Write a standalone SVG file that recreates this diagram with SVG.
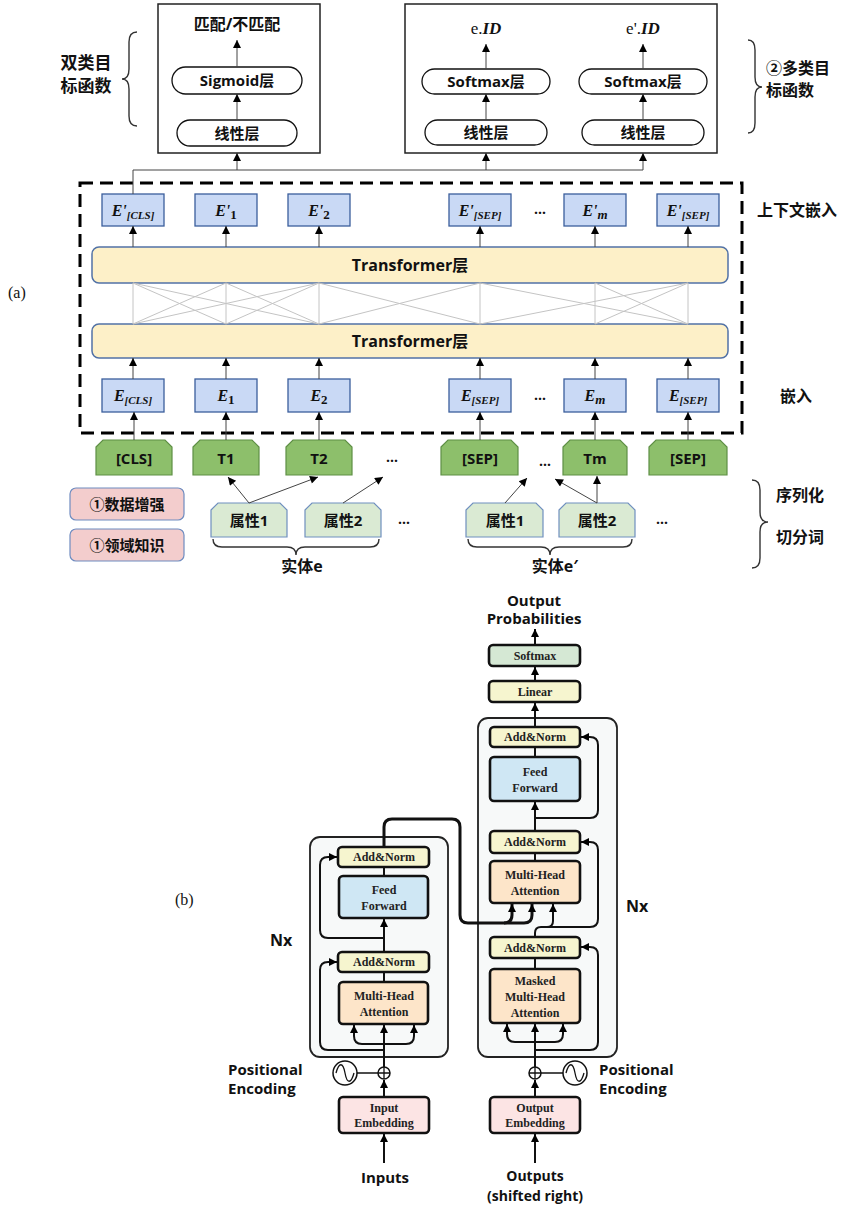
<svg xmlns="http://www.w3.org/2000/svg" width="843" height="1205" viewBox="0 0 843 1205">
<defs>
<style>
.t{font-family:"Open Sans","Noto Sans CJK SC",sans-serif;font-weight:bold;fill:#111;text-anchor:middle}
.tl{font-family:"Open Sans","Noto Sans CJK SC",sans-serif;font-weight:bold;fill:#111}
.sr{font-family:"Liberation Serif",serif;fill:#111}
.em{font-family:"Liberation Serif",serif;font-style:italic;font-weight:bold;fill:#111;text-anchor:middle;font-size:16px}
.bx{font-family:"Liberation Serif",serif;font-weight:bold;font-size:12px;fill:#222;text-anchor:middle}
.pill{fill:#fff;stroke:#111;stroke-width:1.3}
.obox{fill:#fff;stroke:#222;stroke-width:1.5}
.ebox{fill:#C9D9F5;stroke:#3B5E9C;stroke-width:1.3}
.tf{fill:#FDF0C8;stroke:#5272A6;stroke-width:1.5}
.tok{fill:#8DBF6B;stroke:#5E8F45;stroke-width:1.2}
.attr{fill:#DAEAD3;stroke:#6F8FBF;stroke-width:1.2}
.pink{fill:#F3CDCD;stroke:#6F8CC0;stroke-width:1.2}
.ln{stroke:#444;stroke-width:1;fill:none}
.ar{stroke:#444;stroke-width:1;fill:none;marker-end:url(#a1)}
.gx{stroke:#C4C4C4;stroke-width:1;fill:none}
.br{stroke:#333;stroke-width:1.4;fill:none}
.blk{stroke:#111;stroke-width:2.6;rx:4}
.stack{fill:#F7F9F9;stroke:#222;stroke-width:1.8}
.w{stroke:#111;stroke-width:2;fill:none}
.wa{stroke:#111;stroke-width:2;fill:none;marker-end:url(#a2)}
.wt{stroke:#111;stroke-width:3;fill:none}
.wta{stroke:#111;stroke-width:3;fill:none;marker-end:url(#a2)}
</style>
<marker id="a1" viewBox="0 0 10 10" refX="10" refY="5" markerUnits="userSpaceOnUse" markerWidth="10" markerHeight="8" orient="auto"><path d="M0,0L10,5L0,10z" fill="#000"/></marker>
<marker id="a2" viewBox="0 0 10 10" refX="10" refY="5" markerUnits="userSpaceOnUse" markerWidth="8" markerHeight="8" orient="auto"><path d="M0,0L10,5L0,10z" fill="#000"/></marker>
</defs>
<rect width="843" height="1205" fill="#fff"/>

<!-- ============ (a) ============ -->
<text class="sr" x="8" y="298" font-size="16">(a)</text>

<g id="binary-head">
<rect class="obox" x="158" y="4" width="162" height="149"/>
<text class="t" x="237" y="30" font-size="16">匹配/不匹配</text>
<rect class="pill" x="172" y="67" width="130" height="27" rx="13.5"/>
<text class="t" x="237" y="86" font-size="15">Sigmoid层</text>
<rect class="pill" x="177" y="120" width="120" height="26" rx="13"/>
<text class="t" x="237" y="139" font-size="15">线性层</text>
</g>
<g id="binary-label">
<path class="br" d="M137,32 Q129,32 129,42 V69 Q129,79 122,79 Q129,79 129,89 V116 Q129,126 137,126"/>
<text class="t" x="86" y="69" font-size="17">双类目</text>
<text class="t" x="86" y="92" font-size="17">标函数</text>
</g>

<g id="multi-head">
<rect class="obox" x="405" y="4" width="312" height="149"/>
<text class="sr" x="486" y="34" font-size="17" text-anchor="middle">e.<tspan font-weight="bold" font-style="italic">ID</tspan></text>
<text class="sr" x="643" y="34" font-size="17" text-anchor="middle">e'.<tspan font-weight="bold" font-style="italic">ID</tspan></text>
<rect class="pill" x="422" y="69" width="128" height="25" rx="12.5"/>
<text class="t" x="486" y="87" font-size="15">Softmax层</text>
<rect class="pill" x="579" y="69" width="128" height="25" rx="12.5"/>
<text class="t" x="643" y="87" font-size="15">Softmax层</text>
<rect class="pill" x="425" y="120" width="122" height="25" rx="12.5"/>
<text class="t" x="486" y="138" font-size="15">线性层</text>
<rect class="pill" x="582" y="120" width="122" height="25" rx="12.5"/>
<text class="t" x="643" y="138" font-size="15">线性层</text>
</g>
<g id="multi-label">
<path class="br" d="M748,40 Q755,40 755,50 V77 Q755,87 762,87 Q755,87 755,97 V123 Q755,133 748,133"/>
<text class="tl" x="766" y="74" font-size="16">②多类目</text>
<text class="tl" x="766" y="96" font-size="16">标函数</text>
</g>

<g id="bert-frame">
<rect x="80" y="183" width="662" height="250" fill="none" stroke="#000" stroke-width="3" stroke-dasharray="13 7"/>
</g>

<g id="ctx-embeddings">
<rect class="ebox" x="102" y="194" width="62" height="32"/>
<text class="em" x="133" y="216">E'<tspan font-size="11" dy="3">[CLS]</tspan></text>
<rect class="ebox" x="195" y="194" width="62" height="32"/>
<text class="em" x="226" y="216">E'<tspan font-size="13" dy="3" font-style="normal">1</tspan></text>
<rect class="ebox" x="288" y="194" width="62" height="32"/>
<text class="em" x="319" y="216">E'<tspan font-size="13" dy="3" font-style="normal">2</tspan></text>
<rect class="ebox" x="449" y="194" width="62" height="32"/>
<text class="em" x="480" y="216">E'<tspan font-size="11" dy="3">[SEP]</tspan></text>
<text class="t" x="540" y="214" font-size="14">…</text>
<rect class="ebox" x="564" y="194" width="62" height="32"/>
<text class="em" x="595" y="216">E'<tspan font-size="13" dy="3">m</tspan></text>
<rect class="ebox" x="657" y="194" width="62" height="32"/>
<text class="em" x="688" y="216">E'<tspan font-size="11" dy="3">[SEP]</tspan></text>
</g>

<g id="transformer-top">
<rect class="tf" x="92" y="247" width="636" height="36" rx="7"/>
<text class="t" x="410" y="271" font-size="16">Transformer层</text>
</g>
<g id="transformer-bottom">
<rect class="tf" x="92" y="324" width="636" height="34" rx="7"/>
<text class="t" x="410" y="347" font-size="16">Transformer层</text>
</g>

<g id="embeddings">
<rect class="ebox" x="102" y="379" width="62" height="33"/>
<text class="em" x="133" y="401">E<tspan font-size="11" dy="3">[CLS]</tspan></text>
<rect class="ebox" x="195" y="379" width="62" height="33"/>
<text class="em" x="226" y="401">E<tspan font-size="13" dy="3" font-style="normal">1</tspan></text>
<rect class="ebox" x="288" y="379" width="62" height="33"/>
<text class="em" x="319" y="401">E<tspan font-size="13" dy="3" font-style="normal">2</tspan></text>
<rect class="ebox" x="449" y="379" width="62" height="33"/>
<text class="em" x="480" y="401">E<tspan font-size="11" dy="3">[SEP]</tspan></text>
<text class="t" x="540" y="400" font-size="14">…</text>
<rect class="ebox" x="564" y="379" width="62" height="33"/>
<text class="em" x="595" y="401">E<tspan font-size="13" dy="3">m</tspan></text>
<rect class="ebox" x="657" y="379" width="62" height="33"/>
<text class="em" x="688" y="401">E<tspan font-size="11" dy="3">[SEP]</tspan></text>
</g>

<g id="tokens">
<path class="tok" d="M96,447L103,440H165L172,447V475H96Z"/>
<text class="t" x="134" y="464" font-size="15">[CLS]</text>
<path class="tok" d="M193,447L200,440H252L259,447V475H193Z"/>
<text class="t" x="226" y="464" font-size="15">T1</text>
<path class="tok" d="M286,447L293,440H345L352,447V475H286Z"/>
<text class="t" x="319" y="464" font-size="15">T2</text>
<text class="t" x="392" y="462" font-size="14">…</text>
<path class="tok" d="M441,447L448,440H511L518,447V475H441Z"/>
<text class="t" x="480" y="464" font-size="15">[SEP]</text>
<text class="t" x="545" y="466" font-size="14">…</text>
<path class="tok" d="M563,447L570,440H620L627,447V475H563Z"/>
<text class="t" x="595" y="464" font-size="15">Tm</text>
<path class="tok" d="M649,447L656,440H720L727,447V475H649Z"/>
<text class="t" x="688" y="464" font-size="15">[SEP]</text>
</g>

<g id="attributes">
<path class="attr" d="M211,510L218,503H280L287,510V537H211Z"/>
<text class="t" x="249" y="526" font-size="15">属性1</text>
<path class="attr" d="M305,510L312,503H374L381,510V537H305Z"/>
<text class="t" x="343" y="526" font-size="15">属性2</text>
<text class="t" x="404" y="524" font-size="14">…</text>
<path class="attr" d="M466,510L473,503H536L543,510V537H466Z"/>
<text class="t" x="505" y="526" font-size="15">属性1</text>
<path class="attr" d="M559,510L566,503H628L635,510V537H559Z"/>
<text class="t" x="597" y="526" font-size="15">属性2</text>
<text class="t" x="662" y="524" font-size="14">…</text>
</g>

<g id="entity-e">
<path class="br" d="M213,539 Q213,547 222,547 H287 Q296,547 296,555 Q296,547 305,547 H370 Q379,547 379,539"/>
<text class="t" x="302" y="572" font-size="16">实体e</text>
</g>
<g id="entity-e2">
<path class="br" d="M468,539 Q468,547 477,547 H541 Q550,547 550,555 Q550,547 559,547 H623 Q632,547 632,539"/>
<text class="t" x="555" y="572" font-size="16">实体e′</text>
</g>

<g id="aug">
<rect class="pink" x="70" y="488" width="114" height="32" rx="6"/>
<text class="t" x="127" y="510" font-size="15">①数据增强</text>
</g>
<g id="domain">
<rect class="pink" x="70" y="529" width="114" height="32" rx="6"/>
<text class="t" x="127" y="551" font-size="15">①领域知识</text>
</g>

<g id="right-labels">
<text class="tl" x="757" y="216" font-size="16">上下文嵌入</text>
<text class="tl" x="780" y="402" font-size="16">嵌入</text>
<path class="br" d="M752,480 Q760,480 760,490 V512 Q760,522 768,522 Q760,522 760,532 V558 Q760,568 752,568"/>
<text class="tl" x="776" y="501" font-size="16">序列化</text>
<text class="tl" x="776" y="543" font-size="16">切分词</text>
</g>

<g id="connectors-a">
<path class="ln" d="M133,194V170H643"/>
<path class="ar" d="M237,170V153"/>
<path class="ar" d="M486,170V153"/>
<path class="ar" d="M643,170V153"/>
<path class="ar" d="M237,67V40"/>
<path class="ar" d="M237,120V94"/>
<path class="ar" d="M486,69V44"/>
<path class="ar" d="M643,69V44"/>
<path class="ar" d="M486,120V94"/>
<path class="ar" d="M643,120V94"/>
<path class="ar" d="M133,247V226"/>
<path class="ar" d="M226,247V226"/>
<path class="ar" d="M319,247V226"/>
<path class="ar" d="M480,247V226"/>
<path class="ar" d="M595,247V226"/>
<path class="ar" d="M688,247V226"/>
<path class="ar" d="M133,379V358"/>
<path class="ar" d="M226,379V358"/>
<path class="ar" d="M319,379V358"/>
<path class="ar" d="M480,379V358"/>
<path class="ar" d="M595,379V358"/>
<path class="ar" d="M688,379V358"/>
<path class="ar" d="M134,440V412"/>
<path class="ar" d="M226,440V412"/>
<path class="ar" d="M319,440V412"/>
<path class="ar" d="M480,440V412"/>
<path class="ar" d="M595,440V412"/>
<path class="ar" d="M688,440V412"/>
<path class="gx" d="M133,283V324M226,283V324M319,283V324M480,283V324M595,283V324M688,283V324
M133,283L226,324M226,283L133,324M133,283L319,324M319,283L133,324M226,283L319,324M319,283L226,324
M319,283L480,324M480,283L319,324M480,283L688,324M688,283L480,324M595,283L688,324M688,283L595,324"/>
<path class="ar" d="M249,503L228,477"/>
<path class="ar" d="M249,503L318,477"/>
<path class="ar" d="M343,503L383,477"/>
<path class="ar" d="M505,503L527,478"/>
<path class="ar" d="M597,503L555,479"/>
<path class="ar" d="M597,503V476"/>
</g>

<!-- ============ (b) ============ -->
<text class="sr" x="175" y="905" font-size="16">(b)</text>

<g id="encoder">
<rect class="stack" x="310" y="837" width="138" height="220" rx="10"/>
<rect class="blk" x="338" y="847" width="91" height="20" fill="#F6F5CF"/>
<text class="bx" x="384" y="861">Add&amp;Norm</text>
<rect class="blk" x="339" y="876" width="89" height="42" rx="6" fill="#CFE7F4"/>
<text class="bx" x="384" y="894">Feed</text>
<text class="bx" x="384" y="910">Forward</text>
<rect class="blk" x="338" y="952" width="91" height="20" fill="#F6F5CF"/>
<text class="bx" x="384" y="966">Add&amp;Norm</text>
<rect class="blk" x="339" y="982" width="89" height="42" rx="6" fill="#FDE5C9"/>
<text class="bx" x="384" y="1000">Multi-Head</text>
<text class="bx" x="384" y="1016">Attention</text>
<text class="tl" x="270" y="946" font-size="16">Nx</text>
</g>

<g id="input-embedding">
<rect class="blk" x="339" y="1097" width="90" height="36" rx="5" fill="#FCE4E4"/>
<text class="bx" x="384" y="1112">Input</text>
<text class="bx" x="384" y="1127">Embedding</text>
</g>
<g id="enc-pos">
<circle cx="384" cy="1073" r="6" fill="#fff" stroke="#111" stroke-width="1.5"/>
<path d="M378,1073H390M384,1067V1079" stroke="#111" stroke-width="1.3"/>
<circle cx="345" cy="1073" r="12" fill="#fff" stroke="#111" stroke-width="1.5"/>
<path d="M336,1073 C339,1062 343,1062 345,1073 S351,1084 354,1073" fill="none" stroke="#111" stroke-width="1.3"/>
<path d="M357,1073H378" stroke="#111" stroke-width="1.5"/>
<text class="tl" x="228" y="1075" font-size="15">Positional</text>
<text class="tl" x="228" y="1094" font-size="15">Encoding</text>
</g>
<text class="t" x="385" y="1183" font-size="15">Inputs</text>

<g id="decoder">
<rect class="stack" x="478" y="718" width="139" height="339" rx="10"/>
<rect class="blk" x="490" y="727" width="90" height="20" fill="#F6F5CF"/>
<text class="bx" x="535" y="741">Add&amp;Norm</text>
<rect class="blk" x="490" y="757" width="90" height="44" rx="6" fill="#CFE7F4"/>
<text class="bx" x="535" y="776">Feed</text>
<text class="bx" x="535" y="792">Forward</text>
<rect class="blk" x="490" y="831" width="90" height="22" fill="#F6F5CF"/>
<text class="bx" x="535" y="846">Add&amp;Norm</text>
<rect class="blk" x="490" y="861" width="90" height="42" rx="6" fill="#FDE5C9"/>
<text class="bx" x="535" y="879">Multi-Head</text>
<text class="bx" x="535" y="895">Attention</text>
<rect class="blk" x="490" y="937" width="90" height="21" fill="#F6F5CF"/>
<text class="bx" x="535" y="952">Add&amp;Norm</text>
<rect class="blk" x="490" y="969" width="90" height="54" rx="6" fill="#FDE5C9"/>
<text class="bx" x="535" y="985">Masked</text>
<text class="bx" x="535" y="1001">Multi-Head</text>
<text class="bx" x="535" y="1017">Attention</text>
<text class="tl" x="626" y="912" font-size="16">Nx</text>
</g>

<g id="linear">
<rect class="blk" x="489" y="681" width="91" height="21" fill="#F6F5CF"/>
<text class="bx" x="535" y="696">Linear</text>
</g>
<g id="softmax">
<rect class="blk" x="489" y="645" width="91" height="21" fill="#D5E8D4"/>
<text class="bx" x="535" y="660">Softmax</text>
</g>
<text class="t" x="534" y="606" font-size="15">Output</text>
<text class="t" x="534" y="624" font-size="15">Probabilities</text>

<g id="output-embedding">
<rect class="blk" x="490" y="1097" width="90" height="36" rx="5" fill="#FCE4E4"/>
<text class="bx" x="535" y="1112">Output</text>
<text class="bx" x="535" y="1127">Embedding</text>
</g>
<g id="dec-pos">
<circle cx="535" cy="1073" r="6" fill="#fff" stroke="#111" stroke-width="1.5"/>
<path d="M529,1073H541M535,1067V1079" stroke="#111" stroke-width="1.3"/>
<circle cx="575" cy="1073" r="12" fill="#fff" stroke="#111" stroke-width="1.5"/>
<path d="M566,1073 C569,1062 573,1062 575,1073 S581,1084 584,1073" fill="none" stroke="#111" stroke-width="1.3"/>
<path d="M541,1073H563" stroke="#111" stroke-width="1.5"/>
<text class="tl" x="599" y="1075" font-size="15">Positional</text>
<text class="tl" x="599" y="1094" font-size="15">Encoding</text>
</g>
<text class="t" x="535" y="1181" font-size="14">Outputs</text>
<text class="t" x="535" y="1201" font-size="14">(shifted right)</text>

<g id="connectors-b">
<path class="wa" d="M384,1163V1134"/>
<path class="wa" d="M384,1097V1080"/>
<path class="wa" d="M384,1067V1025"/>
<path class="wa" d="M384,1044H362Q354,1044 354,1036V1025"/>
<path class="wa" d="M384,1044H406Q414,1044 414,1036V1025"/>
<path class="wa" d="M384,1050H328Q320,1050 320,1042V970Q320,962 328,962H337"/>
<path class="w" d="M384,982V972"/>
<path class="wa" d="M384,952V919"/>
<path class="wa" d="M384,938H328Q320,938 320,930V865Q320,857 328,857H337"/>
<path class="w" d="M384,876V867"/>
<path class="wt" d="M384,847V827Q384,819 392,819H452Q460,819 460,827V915Q460,923 468,923H504Q512,923 512,915V910"/>
<path class="wta" d="M512,912V904"/>
<path class="wta" d="M504,923H524Q532,923 532,915V904"/>
<path class="wa" d="M535,1163V1134"/>
<path class="wa" d="M535,1097V1080"/>
<path class="wa" d="M535,1067V1024"/>
<path class="wa" d="M535,1042H515Q507,1042 507,1034V1024"/>
<path class="wa" d="M535,1042H555Q563,1042 563,1034V1024"/>
<path class="wa" d="M535,1050H590Q598,1050 598,1042V955Q598,947 590,947H581"/>
<path class="w" d="M535,969V958"/>
<path class="w" d="M535,937V933Q535,927 541,927H590Q598,927 598,919V850Q598,842 590,842H584"/>
<path class="wa" d="M590,842H581"/>
<path class="wa" d="M541,927H547Q553,927 553,921V904"/>
<path class="w" d="M535,861V853"/>
<path class="wa" d="M535,831V802"/>
<path class="wa" d="M535,818H590Q598,818 598,810V745Q598,737 590,737H581"/>
<path class="w" d="M535,757V747"/>
<path class="wa" d="M535,727V703"/>
<path class="wa" d="M535,681V667"/>
<path class="wa" d="M535,645V629"/>
</g>
</svg>
